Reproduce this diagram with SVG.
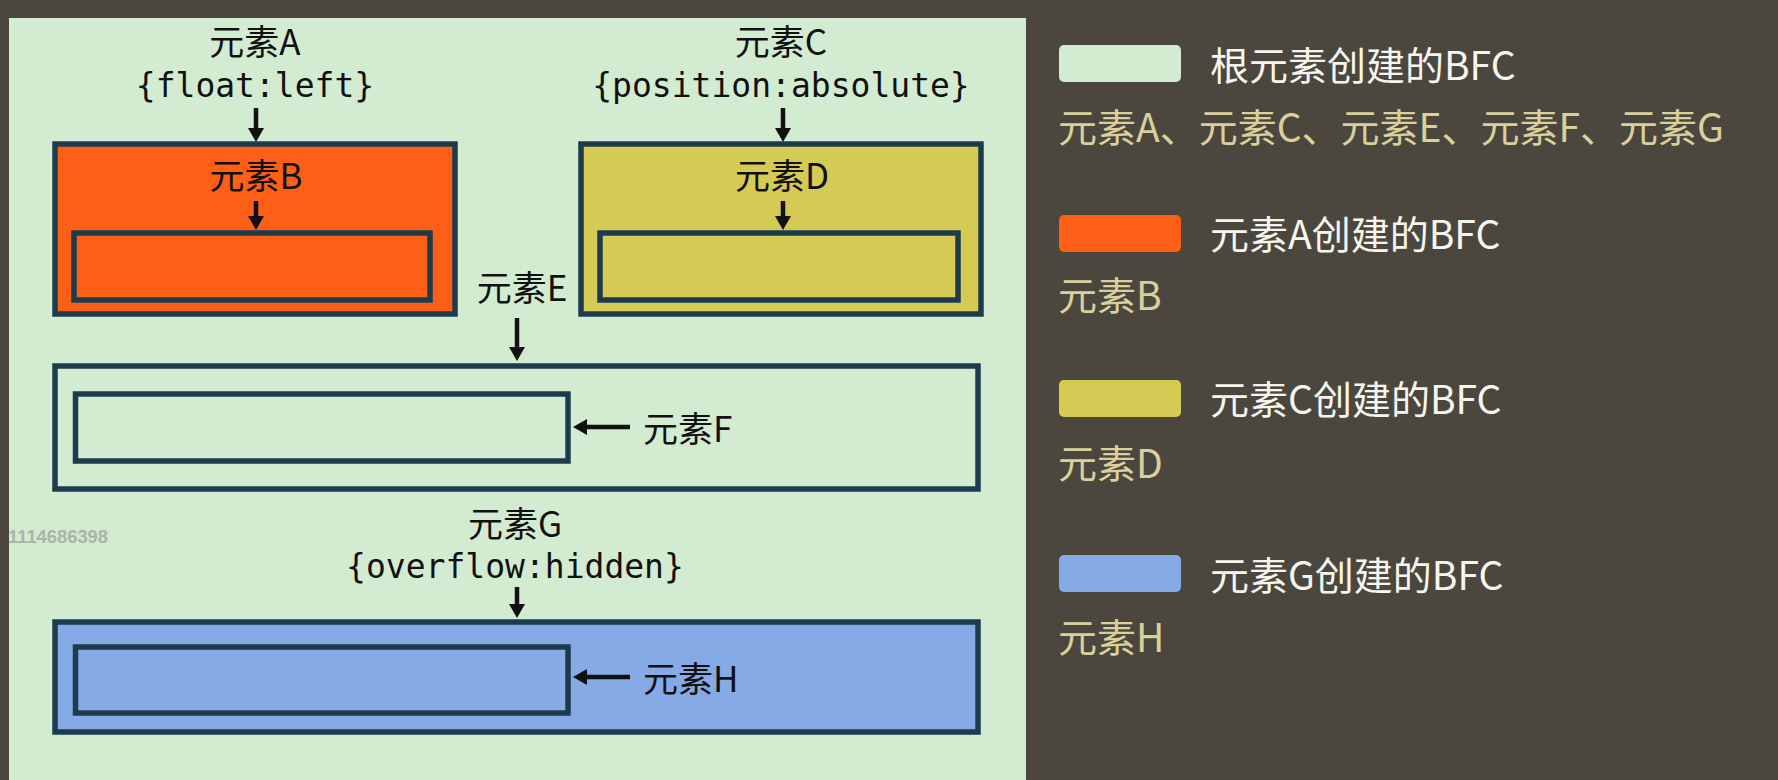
<svg xmlns="http://www.w3.org/2000/svg" width="1778" height="780" viewBox="0 0 1778 780">
<defs>
<style>
.bg{fill:#4b473e}
.panel{fill:#d3ebd1}
.box{stroke:#1c3c4d;stroke-width:5.5}
.lbl{font-family:"Noto Sans CJK SC","Noto Sans",sans-serif;font-size:35px;fill:#111}
.mono{font-family:"DejaVu Sans Mono","Liberation Mono",monospace;font-size:33px;fill:#111}
.arr{stroke:#111;stroke-width:4.5;fill:none;marker-end:url(#ah)}
.lg1{font-family:"Noto Sans CJK SC","Noto Sans",sans-serif;font-size:39px;fill:#f7f6ee}
.lg2{font-family:"Noto Sans CJK SC","Noto Sans",sans-serif;font-size:39px;fill:#d9d09c}
</style>
<marker id="ah" viewBox="0 0 14 16" markerWidth="14" markerHeight="16" refX="1" refY="8" orient="auto" markerUnits="userSpaceOnUse">
<path d="M0,0 L14,8 L0,16 z" fill="#111"/>
</marker>
</defs>
<rect class="bg" x="0" y="0" width="1778" height="780"/>
<rect class="panel" x="9" y="18" width="1017" height="762"/>
<text x="8" y="543" font-family="Liberation Sans,sans-serif" font-weight="bold" font-size="19" fill="#a9b6a6" textLength="100" lengthAdjust="spacingAndGlyphs">1114686398</text>

<g id="nodeA">
<rect class="box" x="55" y="144" width="400" height="170" fill="#fd5f17"/>
<text class="lbl" x="255" y="55" text-anchor="middle">元素A</text>
<text class="mono" x="255" y="97" text-anchor="middle">{float:left}</text>
</g>
<g id="nodeB">
<rect class="box" x="74" y="233" width="356" height="67" fill="#fd5f17"/>
<text class="lbl" x="256" y="189" text-anchor="middle">元素B</text>
</g>
<g id="nodeC">
<rect class="box" x="581" y="144" width="400" height="170" fill="#d5ca54"/>
<text class="lbl" x="781" y="55" text-anchor="middle">元素C</text>
<text class="mono" x="781" y="97" text-anchor="middle">{position:absolute}</text>
</g>
<g id="nodeD">
<rect class="box" x="600" y="233" width="358" height="67" fill="#d5ca54"/>
<text class="lbl" x="782" y="189" text-anchor="middle">元素D</text>
</g>
<g id="nodeE">
<rect class="box" x="55" y="366" width="923" height="123" fill="none"/>
<text class="lbl" x="522" y="301" text-anchor="middle">元素E</text>
</g>
<g id="nodeF">
<rect class="box" x="75.5" y="394" width="492.5" height="67" fill="none"/>
<text class="lbl" x="643" y="442">元素F</text>
</g>
<g id="nodeG">
<rect class="box" x="55" y="622" width="923" height="110" fill="#85aae6"/>
<text class="lbl" x="515" y="537" text-anchor="middle">元素G</text>
<text class="mono" x="515" y="578" text-anchor="middle">{overflow:hidden}</text>
</g>
<g id="nodeH">
<rect class="box" x="75.5" y="647" width="492.5" height="66" fill="#85aae6"/>
<text class="lbl" x="643" y="692">元素H</text>
</g>

<g id="connectors">
<path class="arr" d="M256,108 V129"/>
<path class="arr" d="M256,201 V217"/>
<path class="arr" d="M783,108 V129"/>
<path class="arr" d="M783,201 V217"/>
<path class="arr" d="M517,318 V348"/>
<path class="arr" d="M517,587 V605"/>
<path class="arr" d="M630,427 H586"/>
<path class="arr" d="M630,677 H586"/>
</g>

<g id="legend">
<rect x="1059" y="45" width="122" height="37" rx="5" fill="#d3ebd1"/>
<text class="lg1" x="1210" y="80">根元素创建的BFC</text>
<text class="lg2" x="1058" y="142">元素A、元素C、元素E、元素F、元素G</text>
<rect x="1059" y="215" width="122" height="37" rx="5" fill="#fd5f17"/>
<text class="lg1" x="1210" y="249">元素A创建的BFC</text>
<text class="lg2" x="1058" y="310">元素B</text>
<rect x="1059" y="380" width="122" height="37" rx="5" fill="#d5ca54"/>
<text class="lg1" x="1210" y="414">元素C创建的BFC</text>
<text class="lg2" x="1058" y="478">元素D</text>
<rect x="1059" y="555" width="122" height="37" rx="5" fill="#85aae6"/>
<text class="lg1" x="1210" y="590">元素G创建的BFC</text>
<text class="lg2" x="1058" y="652">元素H</text>
</g>
</svg>
